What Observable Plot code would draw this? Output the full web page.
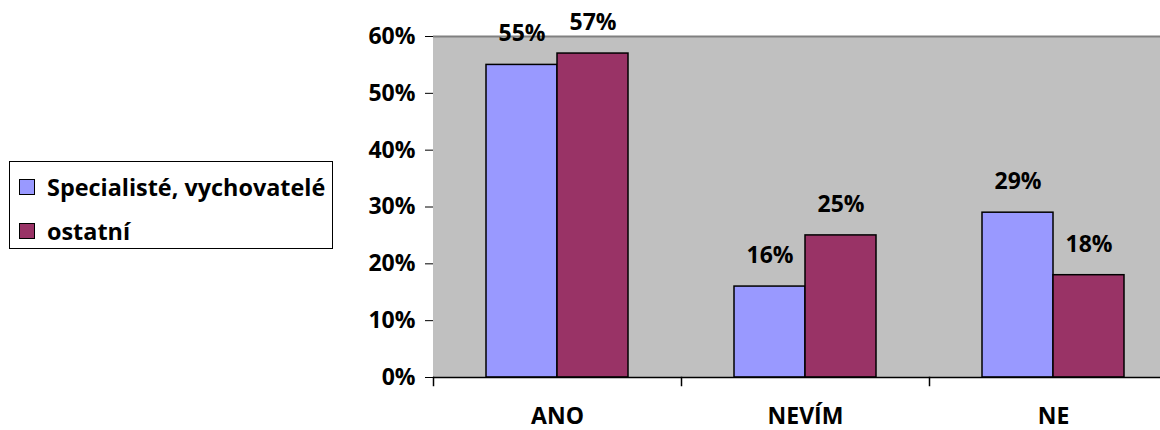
<!DOCTYPE html>
<html>
<head>
<meta charset="utf-8">
<script src="https://cdn.jsdelivr.net/npm/d3@7"></script>
<script src="https://cdn.jsdelivr.net/npm/@observablehq/plot@0.6"></script>
<style>
  html, body { margin: 0; padding: 0; background: #fff; }
  #wrap { position: relative; width: 1160px; height: 430px; overflow: hidden; }
  #legend {
    position: absolute; left: 9px; top: 161px; width: 322px; height: 86px;
    border: 1.5px solid #000; background: #fff; box-sizing: content-box;
    font-family: "Open Sans", sans-serif; font-weight: bold; font-size: 23.4px; color: #000;
  }
  .row { position: absolute; left: 9px; height: 44px; display: flex; align-items: center; white-space: nowrap; }
  .sw { width: 14px; height: 14px; border: 1px solid #000; margin-right: 12px; }
</style>
</head>
<body>
<div id="wrap"></div>
<script>
const categories = ["ANO", "NEVÍM", "NE"];
const seriesNames = ["Specialisté, vychovatelé", "ostatní"];
const specialists = [0.55, 0.16, 0.29];
const others = [0.57, 0.25, 0.18];
const seriesColors = ["#9999FF", "#993366"];
const yTicks = [0, 0.1, 0.2, 0.3, 0.4, 0.5, 0.6];

const seriesValues = [specialists, others];
const data = categories.flatMap((c, i) =>
  seriesNames.map((s, j) => ({category: c, series: s, value: seriesValues[j][i]}))
);

const fmt = d3.format(".0%");

const chart = Plot.plot({
  width: 1160,
  height: 430,
  marginTop: 36,
  marginBottom: 53,
  marginLeft: 433,
  marginRight: 0,
  style: {fontFamily: "'Open Sans', sans-serif", fontWeight: "bold", fontSize: "23px", color: "#000", background: "transparent", overflow: "visible"},
  fx: {domain: categories, range: [433, 1177], padding: 0, label: null, tickSize: 0, tickPadding: 30, axis: "bottom"},
  x: {domain: seriesNames, paddingInner: 0, paddingOuter: 0.74, axis: null},
  y: {domain: [0, 0.6], ticks: yTicks, tickFormat: fmt, label: null, tickSize: 8, tickPadding: 10, line: true},
  color: {domain: seriesNames, range: seriesColors},
  marks: [
    Plot.frame({fill: "#C0C0C0", stroke: "#C0C0C0", strokeWidth: 1, shapeRendering: "crispEdges"}),
    Plot.ruleY([0.6], {stroke: "#808080", strokeWidth: 2}),
    Plot.barY(data, {fx: "category", x: "series", y: "value", fill: "series", stroke: "#000", strokeWidth: 1.5}),
    Plot.text(data, {fx: "category", x: "series", y: "value", text: d => fmt(d.value), dy: -31, fill: "#000"}),
    Plot.ruleY([0], {stroke: "#000", strokeWidth: 1.5}),
    Plot.frame({anchor: "left", insetTop: 341, insetBottom: -8, stroke: "#000", strokeWidth: 1.5})
  ]
});

document.getElementById("wrap").appendChild(chart);

const legend = document.createElement("div");
legend.id = "legend";
seriesNames.forEach((s, j) => {
  const row = document.createElement("div");
  row.className = "row";
  row.style.top = (3 + j * 44) + "px";
  const sw = document.createElement("div");
  sw.className = "sw";
  sw.style.background = seriesColors[j];
  const t = document.createElement("span");
  t.textContent = s;
  row.appendChild(sw);
  row.appendChild(t);
  legend.appendChild(row);
});
document.getElementById("wrap").appendChild(legend);
</script>
</body>
</html>
